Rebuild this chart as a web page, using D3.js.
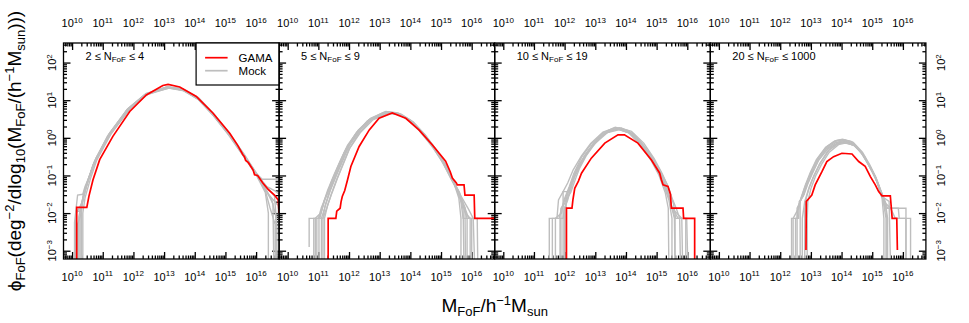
<!DOCTYPE html>
<html>
<head>
<meta charset="utf-8">
<script src="https://cdn.jsdelivr.net/npm/d3@7"></script>
<style>
  body { margin: 0; background: #fff; }
  svg text { font-family: "Liberation Sans", Arial, Helvetica, sans-serif; fill: #000; }
</style>
</head>
<body>
<div id="chart"></div>
<script>
// panel ranges of N_FoF
var nLow = [2, 5, 10, 20];
var nHigh = [4, 9, 19, 1000];

// tick exponents
var xTickExps = [10, 11, 12, 13, 14, 15, 16];
var yTickExps = [-3, -2, -1, 0, 1, 2];

// data: [log10 M, log10 phi]
var gamaP1 = [[10.15,-3.5],[10.15,-1.85],[10.48,-1.85],[10.55,-1.55],[10.68,-1.12],[10.9,-0.58],[11.33,0.04],[11.88,0.7],[12.42,1.14],[12.96,1.39],[13.13,1.42],[13.51,1.35],[14.05,1.1],[14.59,0.66],[15.14,0.12],[15.4,-0.2],[15.57,-0.45],[15.62,-0.5],[15.66,-0.6],[15.75,-0.66],[15.9,-0.85],[15.95,-0.98],[16.05,-1.0],[16.22,-1.2],[16.4,-1.38],[16.6,-1.52],[16.72,-1.65],[16.75,-2.0]];
var gamaP2 = [[11.32,-3.5],[11.32,-2.14],[11.57,-2.14],[11.6,-1.95],[11.71,-1.87],[11.74,-1.7],[11.78,-1.56],[11.86,-1.4],[11.95,-1.12],[12.06,-0.76],[12.33,-0.23],[12.66,0.21],[12.98,0.52],[13.41,0.66],[13.85,0.52],[14.28,0.21],[14.72,-0.19],[15.15,-0.62],[15.3,-0.9],[15.37,-1.07],[15.5,-1.2],[15.53,-1.25],[15.75,-1.25],[15.78,-1.52],[16.08,-1.52],[16.1,-2.14],[16.75,-2.14]];
var gamaP3 = [[12.06,-3.5],[12.06,-1.87],[12.24,-1.87],[12.27,-1.65],[12.33,-1.34],[12.45,-1.15],[12.55,-0.94],[12.87,-0.54],[13.31,-0.14],[13.74,0.08],[13.95,0.08],[14.39,-0.14],[14.83,-0.59],[15.1,-0.94],[15.15,-1.1],[15.21,-1.25],[15.37,-1.29],[15.45,-1.5],[15.48,-1.87],[15.86,-1.87],[15.88,-2.14],[16.24,-2.14],[16.24,-3.5]];
var gamaP4 = [[12.84,-2.98],[12.85,-1.69],[12.95,-1.6],[13.03,-1.52],[13.14,-1.25],[13.36,-0.9],[13.52,-0.63],[13.74,-0.5],[14.01,-0.41],[14.34,-0.43],[14.56,-0.63],[14.77,-0.76],[14.94,-1.03],[15.1,-1.25],[15.21,-1.43],[15.32,-1.54],[15.59,-1.54],[15.65,-2.14],[15.8,-2.14],[15.82,-2.98]];

var mockP1 = [
  [[10.12,-3.5],[10.12,-1.95],[10.28,-1.95],[10.36,-1.55],[10.55,-1.05],[10.76,-0.58],[11.2,0.1],[11.8,0.76],[12.4,1.17],[13.1,1.34],[13.6,1.28],[14.1,1.04],[14.6,0.6],[15.1,0.1],[15.6,-0.5],[15.95,-0.92],[16.3,-1.35],[16.55,-1.75],[16.58,-3.5]],
  [[10.22,-3.5],[10.22,-2.1],[10.32,-1.7],[10.5,-1.18],[10.72,-0.64],[11.15,0.04],[11.8,0.75],[12.4,1.16],[13.1,1.35],[13.6,1.29],[14.1,1.06],[14.6,0.63],[15.1,0.14],[15.6,-0.44],[16.0,-0.95],[16.3,-1.4],[16.45,-1.85],[16.62,-2.3],[16.62,-3.5]],
  [[10.3,-3.5],[10.3,-1.85],[10.45,-1.32],[10.68,-0.72],[11.2,0.05],[11.8,0.72],[12.4,1.14],[13.1,1.33],[13.6,1.27],[14.1,1.03],[14.6,0.6],[15.1,0.08],[15.6,-0.5],[15.9,-0.86],[16.2,-1.1],[16.75,-1.1]],
  [[10.08,-3.5],[10.08,-2.25],[10.18,-1.52],[10.35,-1.5],[10.42,-1.3],[10.6,-0.95],[10.8,-0.52],[11.25,0.15],[11.85,0.78],[12.45,1.17],[13.15,1.34],[13.65,1.26],[14.15,1.0],[14.65,0.56],[15.15,0.05],[15.6,-0.48],[16.0,-0.98],[16.3,-1.45],[16.4,-2.0],[16.4,-3.5]],
  [[10.35,-3.5],[10.35,-2.0],[10.42,-1.6],[10.6,-1.08],[10.8,-0.6],[11.25,0.08],[11.85,0.74],[12.45,1.15],[13.15,1.32],[13.65,1.25],[14.15,1.02],[14.65,0.58],[15.15,0.07],[15.65,-0.55],[16.0,-0.95],[16.35,-1.3],[16.6,-1.55],[16.68,-2.4],[16.68,-3.5]],
  [[10.18,-3.5],[10.18,-2.3],[10.3,-2.0],[10.38,-1.45],[10.58,-0.98],[10.78,-0.55],[11.22,0.1],[11.82,0.77],[12.42,1.18],[13.12,1.36],[13.62,1.3],[14.12,1.07],[14.62,0.64],[15.12,0.13],[15.62,-0.45],[16.05,-1.0],[16.4,-1.5],[16.72,-1.8],[16.75,-2.6]],
  [[10.26,-3.5],[10.26,-1.9],[10.4,-1.45],[10.62,-0.9],[10.85,-0.45],[11.3,0.16],[11.9,0.78],[12.5,1.18],[13.2,1.33],[13.7,1.25],[14.2,0.98],[14.7,0.52],[15.2,0.0],[15.65,-0.52],[16.05,-1.02],[16.35,-1.3],[16.6,-1.4],[16.75,-1.5]],
  [[10.14,-3.5],[10.14,-2.0],[10.34,-1.7],[10.5,-1.2],[10.7,-0.7],[11.18,0.02],[11.78,0.72],[12.38,1.15],[13.08,1.35],[13.58,1.3],[14.08,1.06],[14.58,0.64],[15.08,0.14],[15.58,-0.44],[15.98,-0.9],[16.25,-1.28],[16.5,-1.62],[16.65,-2.1],[16.65,-3.5]]
];
var mockP2 = [
  [[10.95,-3.5],[10.95,-2.14],[11.15,-2.14],[11.22,-1.8],[11.35,-1.45],[11.55,-1.05],[11.75,-0.65],[11.95,-0.25],[12.3,0.18],[12.7,0.5],[13.2,0.67],[13.6,0.64],[14.0,0.45],[14.4,0.12],[14.8,-0.3],[15.1,-0.68],[15.35,-1.1],[15.55,-1.4],[15.7,-1.75],[15.85,-2.14],[15.85,-3.5]],
  [[10.7,-2.9],[10.7,-2.14],[11.0,-2.14],[11.1,-1.85],[11.28,-1.5],[11.45,-1.12],[11.68,-0.7],[11.9,-0.3],[12.25,0.15],[12.65,0.48],[13.15,0.68],[13.55,0.66],[13.95,0.48],[14.35,0.15],[14.75,-0.27],[15.05,-0.65],[15.3,-1.05],[15.5,-1.35],[15.65,-1.7],[15.72,-2.14],[16.0,-2.14],[16.0,-3.5]],
  [[11.1,-3.5],[11.1,-2.14],[11.25,-1.75],[11.4,-1.38],[11.6,-0.98],[11.8,-0.6],[12.0,-0.2],[12.35,0.2],[12.75,0.52],[13.25,0.68],[13.65,0.63],[14.05,0.42],[14.45,0.08],[14.85,-0.34],[15.15,-0.74],[15.4,-1.15],[15.6,-1.5],[15.72,-1.9],[15.75,-3.5]],
  [[10.85,-3.5],[10.85,-2.14],[11.05,-2.14],[11.18,-1.7],[11.3,-1.4],[11.5,-1.0],[11.72,-0.6],[11.95,-0.2],[12.3,0.2],[12.7,0.52],[13.2,0.7],[13.6,0.66],[14.0,0.47],[14.4,0.13],[14.8,-0.28],[15.1,-0.66],[15.35,-1.08],[15.5,-1.3],[15.65,-1.55],[15.9,-1.9],[16.05,-2.14],[16.1,-3.5]],
  [[11.2,-3.5],[11.2,-2.14],[11.3,-1.8],[11.45,-1.45],[11.62,-1.08],[11.82,-0.68],[12.02,-0.28],[12.38,0.15],[12.78,0.48],[13.28,0.66],[13.68,0.62],[14.08,0.42],[14.48,0.08],[14.88,-0.36],[15.18,-0.76],[15.42,-1.2],[15.58,-1.6],[15.65,-2.14],[15.65,-3.5]],
  [[11.02,-3.5],[11.02,-2.14],[11.12,-1.9],[11.25,-1.55],[11.42,-1.2],[11.62,-0.8],[11.85,-0.38],[12.2,0.08],[12.6,0.45],[13.1,0.66],[13.5,0.67],[13.9,0.5],[14.3,0.18],[14.7,-0.22],[15.0,-0.58],[15.28,-1.0],[15.5,-1.35],[15.68,-1.65],[15.8,-2.0],[15.95,-2.14],[15.95,-3.5]],
  [[10.9,-3.5],[10.9,-2.14],[11.08,-2.0],[11.2,-1.65],[11.38,-1.32],[11.58,-0.95],[11.8,-0.55],[12.05,-0.15],[12.4,0.25],[12.8,0.54],[13.3,0.69],[13.7,0.63],[14.1,0.42],[14.5,0.06],[14.9,-0.38],[15.2,-0.8],[15.42,-1.2],[15.6,-1.55],[15.78,-1.85],[15.8,-3.5]],
  [[11.15,-3.5],[11.15,-2.14],[11.28,-1.85],[11.42,-1.5],[11.6,-1.1],[11.8,-0.7],[12.0,-0.3],[12.32,0.12],[12.72,0.47],[13.22,0.65],[13.62,0.62],[14.02,0.44],[14.42,0.1],[14.82,-0.32],[15.12,-0.7],[15.38,-1.12],[15.6,-1.45],[15.75,-1.8],[15.9,-2.14],[16.18,-2.14],[16.2,-3.5]]
];
var mockP3 = [
  [[11.85,-3.5],[11.85,-2.14],[11.95,-2.14],[12.0,-1.87],[12.1,-1.65],[12.2,-1.35],[12.35,-0.95],[12.6,-0.55],[12.9,-0.2],[13.3,0.12],[13.7,0.25],[14.1,0.15],[14.5,-0.17],[14.85,-0.58],[15.1,-0.95],[15.3,-1.35],[15.45,-1.7],[15.6,-2.14],[15.6,-3.5]],
  [[11.5,-3.5],[11.5,-2.14],[11.75,-2.14],[11.8,-1.65],[11.95,-1.43],[12.1,-1.2],[12.28,-0.85],[12.55,-0.48],[12.85,-0.15],[13.25,0.15],[13.65,0.27],[14.05,0.18],[14.45,-0.12],[14.8,-0.52],[15.05,-0.9],[15.25,-1.3],[15.4,-1.65],[15.5,-2.14],[15.5,-3.5]],
  [[11.95,-3.5],[11.95,-1.43],[12.15,-1.43],[12.25,-1.15],[12.4,-0.85],[12.65,-0.48],[12.95,-0.15],[13.35,0.14],[13.75,0.24],[14.15,0.12],[14.55,-0.2],[14.9,-0.62],[15.15,-1.0],[15.35,-1.4],[15.5,-1.85],[15.7,-2.14],[15.95,-2.14],[15.95,-3.5]],
  [[12.0,-3.5],[12.0,-1.87],[12.08,-1.65],[12.18,-1.4],[12.32,-1.05],[12.58,-0.6],[12.88,-0.25],[13.28,0.1],[13.68,0.24],[14.08,0.14],[14.48,-0.2],[14.82,-0.6],[15.08,-1.0],[15.28,-1.45],[15.38,-1.87],[15.4,-3.5]],
  [[11.7,-3.5],[11.7,-2.14],[11.9,-2.0],[11.98,-1.65],[12.15,-1.3],[12.3,-0.95],[12.55,-0.52],[12.85,-0.18],[13.25,0.13],[13.65,0.28],[14.05,0.2],[14.45,-0.08],[14.85,-0.5],[15.12,-0.88],[15.35,-1.25],[15.5,-1.6],[15.65,-1.9],[15.75,-2.14],[15.78,-3.5]],
  [[12.05,-3.5],[12.05,-1.65],[12.2,-1.45],[12.35,-1.1],[12.48,-0.82],[12.7,-0.48],[13.0,-0.14],[13.4,0.14],[13.8,0.22],[14.2,0.1],[14.6,-0.24],[14.95,-0.66],[15.2,-1.05],[15.38,-1.45],[15.5,-1.87],[15.82,-2.14],[15.85,-3.5]],
  [[11.88,-3.5],[11.88,-1.87],[12.0,-1.75],[12.12,-1.45],[12.25,-1.12],[12.45,-0.75],[12.72,-0.4],[13.05,-0.05],[13.45,0.2],[13.85,0.26],[14.25,0.1],[14.62,-0.25],[14.95,-0.68],[15.2,-1.1],[15.4,-1.55],[15.58,-2.14],[15.6,-3.5]],
  [[11.6,-3.5],[11.6,-2.14],[11.82,-2.14],[11.9,-1.87],[12.05,-1.55],[12.22,-1.2],[12.42,-0.82],[12.68,-0.45],[12.98,-0.12],[13.38,0.16],[13.78,0.27],[14.18,0.17],[14.58,-0.14],[14.92,-0.55],[15.18,-0.95],[15.4,-1.35],[15.55,-1.75],[15.62,-2.14],[15.98,-2.14],[16.02,-3.5]]
];
var mockP4 = [
  [[12.5,-3.5],[12.5,-2.14],[12.6,-2.14],[12.62,-1.69],[12.75,-1.55],[12.85,-1.3],[13.0,-1.0],[13.2,-0.65],[13.5,-0.3],[13.8,-0.13],[14.05,-0.08],[14.35,-0.15],[14.65,-0.4],[14.9,-0.75],[15.1,-1.05],[15.3,-1.5],[15.45,-1.85],[15.5,-2.14],[15.5,-3.5]],
  [[12.37,-3.5],[12.37,-2.14],[12.55,-2.14],[12.58,-1.87],[12.7,-1.55],[12.82,-1.25],[12.98,-0.92],[13.18,-0.58],[13.48,-0.25],[13.78,-0.08],[14.03,-0.04],[14.33,-0.1],[14.63,-0.36],[14.88,-0.7],[15.08,-1.0],[15.28,-1.45],[15.42,-1.75],[15.48,-2.14],[15.48,-3.5]],
  [[12.65,-3.5],[12.65,-1.69],[12.78,-1.5],[12.9,-1.22],[13.05,-0.95],[13.25,-0.6],[13.55,-0.3],[13.85,-0.14],[14.1,-0.1],[14.4,-0.18],[14.7,-0.45],[14.95,-0.8],[15.15,-1.12],[15.35,-1.55],[15.42,-1.87],[16.1,-1.87],[16.1,-3.5]],
  [[12.72,-3.5],[12.72,-2.14],[12.8,-1.69],[12.92,-1.38],[13.08,-1.05],[13.28,-0.7],[13.55,-0.35],[13.85,-0.16],[14.1,-0.12],[14.4,-0.2],[14.7,-0.45],[14.95,-0.82],[15.15,-1.15],[15.32,-1.6],[15.38,-2.14],[15.38,-3.5]],
  [[12.42,-3.5],[12.42,-2.14],[12.6,-1.87],[12.68,-1.6],[12.8,-1.32],[12.95,-1.02],[13.15,-0.66],[13.45,-0.3],[13.75,-0.1],[14.0,-0.05],[14.3,-0.1],[14.6,-0.35],[14.87,-0.7],[15.1,-1.05],[15.3,-1.45],[15.45,-1.75],[15.6,-1.87],[15.75,-2.14],[16.25,-2.14],[16.25,-3.5]],
  [[12.8,-3.5],[12.8,-1.87],[12.85,-1.6],[12.95,-1.3],[13.1,-1.0],[13.3,-0.68],[13.6,-0.32],[13.9,-0.15],[14.15,-0.12],[14.45,-0.22],[14.75,-0.5],[15.0,-0.88],[15.2,-1.25],[15.35,-1.65],[15.45,-2.14],[15.45,-3.5]],
  [[12.55,-3.5],[12.55,-1.87],[12.65,-1.7],[12.78,-1.42],[12.9,-1.15],[13.05,-0.85],[13.25,-0.52],[13.55,-0.22],[13.85,-0.07],[14.08,-0.05],[14.38,-0.12],[14.68,-0.38],[14.92,-0.72],[15.12,-1.05],[15.32,-1.5],[15.5,-1.87],[15.85,-1.87],[15.88,-2.14],[16.1,-2.14],[16.1,-3.5]],
  [[12.88,-3.5],[12.88,-2.14],[12.9,-1.69],[13.0,-1.35],[13.15,-1.02],[13.35,-0.7],[13.6,-0.38],[13.9,-0.18],[14.12,-0.14],[14.42,-0.2],[14.72,-0.46],[14.98,-0.85],[15.18,-1.2],[15.3,-1.55],[15.55,-1.69],[15.6,-3.5]]
];

var gama = [gamaP1, gamaP2, gamaP3, gamaP4];
var mocks = [mockP1, mockP2, mockP3, mockP4];

var width = 969, height = 323;
var margin = {left: 63.5, top: 43};
var pw = 215.6, ph = 216;
var red = "#ff0000", grey = "#bebebe";

var svg = d3.select("#chart").append("svg")
  .attr("width", width)
  .attr("height", height);

var x = d3.scaleLog()
  .domain([Math.pow(10, 9.72), Math.pow(10, 16.75)])
  .range([0, pw]);
var y = d3.scaleLog()
  .domain([Math.pow(10, -3.22), Math.pow(10, 2.52)])
  .range([ph, 0]);

var line = d3.line()
  .x(function(d){ return x(Math.pow(10, d[0])); })
  .y(function(d){ return y(Math.pow(10, d[1])); });

// minor/major tick values
function logTicks(scale){
  var dom = scale.domain(), major = [], minor = [];
  var lo = Math.floor(Math.log10(dom[0])), hi = Math.ceil(Math.log10(dom[1]));
  for (var n = lo; n <= hi; n++){
    for (var k = 1; k < 10; k++){
      var v = k * Math.pow(10, n);
      if (v < dom[0] || v > dom[1]) continue;
      if (k == 1) major.push(v); else minor.push(v);
    }
  }
  return {major: major, minor: minor};
}
var xt = logTicks(x), yt = logTicks(y);

// text with sub/superscripts: segs = [[text, "n"|"sub"|"sup"], ...]
function richText(sel, segs, size, small, shift){
  var cur = 0;
  segs.forEach(function(s){
    var target = s[1] == "sup" ? -shift : s[1] == "sub" ? shift * 0.6 : 0;
    sel.append("tspan")
      .attr("dy", target - cur)
      .attr("font-size", s[1] == "n" ? size : small)
      .text(s[0]);
    cur = target;
  });
}

function powLabel(exp){
  return [["10", "n"], [exp < 0 ? "\u2212" + (-exp) : "" + exp, "sup"]];
}

d3.range(4).forEach(function(i){
  var g = svg.append("g")
    .attr("transform", "translate(" + (margin.left + i * pw) + "," + margin.top + ")");

  g.append("clipPath").attr("id", "clip" + i)
    .append("rect").attr("width", pw).attr("height", ph);

  // ticks, all pointing inward
  function addAxis(axisFn, scale, vals, len, tr){
    g.append("g")
      .attr("transform", tr)
      .call(axisFn(scale).tickValues(vals).tickSizeInner(-len).tickSizeOuter(0).tickFormat(""))
      .call(function(a){ a.select(".domain").remove(); a.selectAll("line").attr("stroke", "#000").attr("stroke-width", 1.3); });
  }
  addAxis(d3.axisBottom, x, xt.major, 7, "translate(0," + ph + ")");
  addAxis(d3.axisBottom, x, xt.minor, 3.5, "translate(0," + ph + ")");
  addAxis(d3.axisTop, x, xt.major, 7, "translate(0,0)");
  addAxis(d3.axisTop, x, xt.minor, 3.5, "translate(0,0)");
  addAxis(d3.axisLeft, y, yt.major, 7, "translate(0,0)");
  addAxis(d3.axisLeft, y, yt.minor, 3.5, "translate(0,0)");
  addAxis(d3.axisRight, y, yt.major, 7, "translate(" + pw + ",0)");
  addAxis(d3.axisRight, y, yt.minor, 3.5, "translate(" + pw + ",0)");

  // x tick labels top and bottom
  xTickExps.forEach(function(e){
    [ -16, ph + 21.5 ].forEach(function(ty){
      var t = g.append("text")
        .attr("x", x(Math.pow(10, e)))
        .attr("y", ty)
        .attr("text-anchor", "middle");
      richText(t, powLabel(e), 11, 8, 4.5);
    });
  });

  // curves
  var curves = g.append("g").attr("clip-path", "url(#clip" + i + ")");
  curves.selectAll(".mock")
    .data(mocks[i])
    .enter().append("path")
      .attr("class", "mock")
      .attr("d", line)
      .attr("fill", "none")
      .attr("stroke", grey)
      .attr("stroke-width", 1.4);
  curves.append("path")
    .datum(gama[i])
    .attr("d", line)
    .attr("fill", "none")
    .attr("stroke", red)
    .attr("stroke-width", 1.7);

  // border
  g.append("rect")
    .attr("width", pw).attr("height", ph)
    .attr("fill", "none").attr("stroke", "#000").attr("stroke-width", 1.3);

  // panel label
  var lab = g.append("text").attr("x", 22).attr("y", 17);
  richText(lab, [[nLow[i] + " \u2264 N", "n"], ["FoF", "sub"], [" \u2264 " + nHigh[i], "n"]], 11, 8, 4);

  // y tick labels on outer panels
  if (i == 0 || i == 3){
    yTickExps.forEach(function(e){
      var tx = i == 0 ? -7.5 : pw + 19.5;
      var t = g.append("text")
        .attr("transform", "translate(" + tx + "," + y(Math.pow(10, e)) + ") rotate(-90)")
        .attr("text-anchor", "middle");
      richText(t, powLabel(e), 11, 8, 4.5);
    });
  }

  // legend
  if (i == 0){
    var lg = g.append("g").attr("transform", "translate(" + (pw - 83) + ",0)");
    lg.append("rect").attr("width", 83).attr("height", 42)
      .attr("fill", "#fff").attr("stroke", "#000").attr("stroke-width", 1.2);
    [["GAMA", red, 14.7], ["Mock", grey, 27.7]].forEach(function(l){
      lg.append("line").attr("x1", 9).attr("x2", 31.5).attr("y1", l[2]).attr("y2", l[2])
        .attr("stroke", l[1]).attr("stroke-width", 1.7);
      lg.append("text").attr("x", 42.5).attr("y", l[2] + 4.2)
        .attr("font-size", 11.5).text(l[0]);
    });
  }
});

// axis titles
var xt1 = svg.append("text")
  .attr("x", margin.left + 2 * pw)
  .attr("y", 312)
  .attr("text-anchor", "middle");
richText(xt1, [["M", "n"], ["FoF", "sub"], ["/h", "n"], ["\u22121", "sup"], ["M", "n"], ["sun", "sub"]], 19, 13, 7);

var yt1 = svg.append("text")
  .attr("transform", "translate(21," + (margin.top + ph / 2) + ") rotate(-90)")
  .attr("text-anchor", "middle");
richText(yt1, [["\u03d5", "n"], ["FoF", "sub"], ["(deg", "n"], ["\u22122", "sup"], ["/dlog", "n"], ["10", "sub"],
  ["(M", "n"], ["FoF", "sub"], ["/(h", "n"], ["\u22121", "sup"], ["M", "n"], ["sun", "sub"], [")))", "n"]], 19, 13, 7);
</script>
</body>
</html>
